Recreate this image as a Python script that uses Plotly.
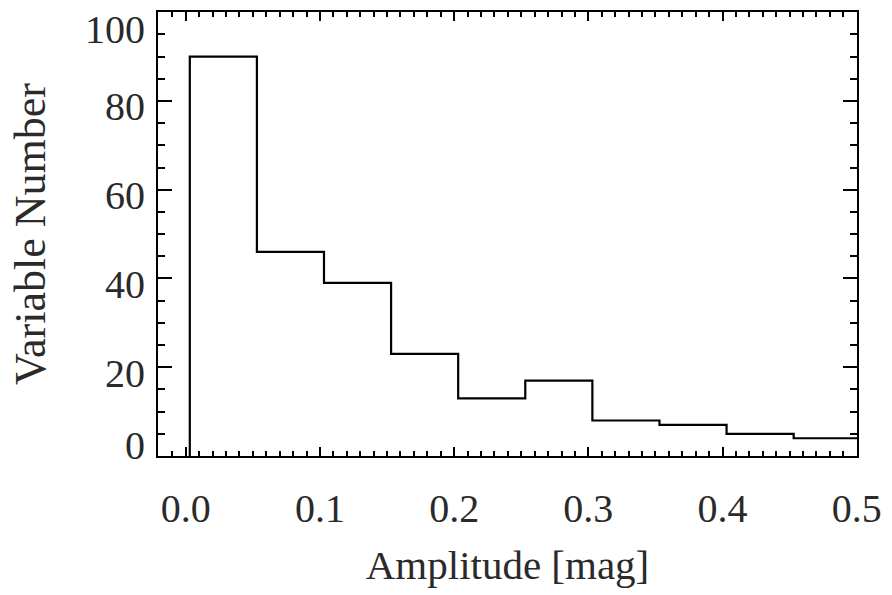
import plotly.graph_objects as go

# Histogram data
bin_left_edges = [0.003, 0.053, 0.103, 0.153, 0.203, 0.253, 0.303, 0.353, 0.403, 0.453]
bin_width = 0.05
counts = [90, 46, 39, 23, 13, 17, 8, 7, 5, 4]

x_tick_vals = [0.0, 0.1, 0.2, 0.3, 0.4, 0.5]
x_tick_text = ["0.0", "0.1", "0.2", "0.3", "0.4", "0.5"]
y_tick_vals = [0, 20, 40, 60, 80, 100]
y_tick_text = ["0", "20", "40", "60", "80", "100"]

# Build step outline
xs = [bin_left_edges[0]] + bin_left_edges + [bin_left_edges[-1] + bin_width]
ys = [0] + counts + [counts[-1]]

FONT = "Liberation Serif"
TXT = "#2a2a2a"

fig = go.Figure()
fig.add_trace(go.Scatter(x=xs, y=ys, mode="lines", line=dict(color="black", width=2.2, shape="hv"),
                         showlegend=False, hoverinfo="skip"))

# y tick labels (IDL-style: end labels pulled inside the axis span)
for v, t in zip(y_tick_vals, y_tick_text):
    if v == y_tick_vals[-1]:
        shift = -17
    elif v == y_tick_vals[0]:
        shift = 11
    else:
        shift = -6
    fig.add_annotation(x=0, xref="paper", y=v, yref="y", text=t, showarrow=False,
                       xanchor="right", yanchor="middle", xshift=-11, yshift=shift,
                       font=dict(family=FONT, size=40, color=TXT))

fig.update_layout(
    width=892, height=595,
    margin=dict(l=158, r=30, t=10, b=139),
    paper_bgcolor="white", plot_bgcolor="white",
    font=dict(family=FONT, size=40, color=TXT),
    xaxis=dict(
        range=[-0.0207, 0.5002], showgrid=False, zeroline=False,
        showline=True, linecolor="black", linewidth=2, mirror="ticks",
        ticks="inside", ticklen=9, tickwidth=2, tickcolor="black",
        tickvals=x_tick_vals, ticktext=x_tick_text,
        tickfont=dict(family=FONT, size=40, color=TXT),
        minor=dict(dtick=0.01, tick0=0, ticks="inside", ticklen=5, tickwidth=2, tickcolor="black"),
        ticklabelstandoff=16,
        title=dict(text="Amplitude [mag]", font=dict(size=41, family=FONT, color=TXT), standoff=20),
    ),
    yaxis=dict(
        range=[0, 100.05], showgrid=False, zeroline=False,
        showline=True, linecolor="black", linewidth=2, mirror="ticks",
        ticks="inside", ticklen=14, tickwidth=2, tickcolor="black",
        tickvals=y_tick_vals, showticklabels=False,
        minor=dict(dtick=5, tick0=0, ticks="inside", ticklen=7, tickwidth=2, tickcolor="black"),
        title=dict(text="Variable Number", font=dict(size=44, family=FONT, color=TXT), standoff=97),
    ),
)

fig.write_html("out.html")
